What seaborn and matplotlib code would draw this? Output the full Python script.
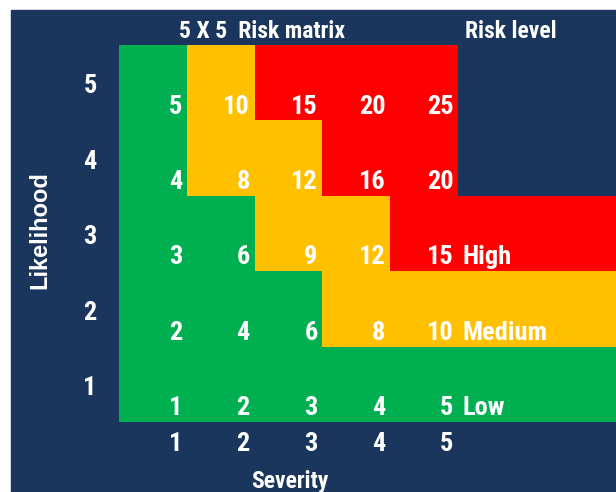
import numpy as np
import pandas as pd
import seaborn as sns
import matplotlib.pyplot as plt
from matplotlib.colors import ListedColormap
from matplotlib.patches import Rectangle

# --------- data ---------
likelihood = [5, 4, 3, 2, 1]
severity = [1, 2, 3, 4, 5]
scores = [
    [5, 10, 15, 20, 25],
    [4, 8, 12, 16, 20],
    [3, 6, 9, 12, 15],
    [2, 4, 6, 8, 10],
    [1, 2, 3, 4, 5],
]
# 0 = low, 1 = medium, 2 = high
levels = [
    [0, 1, 2, 2, 2],
    [0, 1, 1, 2, 2],
    [0, 0, 1, 1, 2],
    [0, 0, 0, 1, 1],
    [0, 0, 0, 0, 0],
]
# risk level band on the right (None = no band)
band_levels = [None, None, 2, 1, 0]
band_names = [None, None, "High", "Medium", "Low"]

navy = "#1A365D"
colors = ["#00B050", "#FFC000", "#FF0000"]
narrow = ["Liberation Sans Narrow", "Roboto Condensed", "Archivo Narrow",
          "Barlow Semi Condensed", "DejaVu Sans"]
num_size = 19

# build the grid: 5 matrix columns + 3 columns for the band
grid = []
for row, band in zip(levels, band_levels):
    ext = [np.nan if band is None else band] * 3
    grid.append(row + ext)
grid_df = pd.DataFrame(grid, index=likelihood)

fig = plt.figure(figsize=(6.16, 4.92), dpi=100)
fig.patches.append(Rectangle((11 / 616, 0), 1, (492 - 10) / 492,
                             transform=fig.transFigure, color=navy, zorder=-5))
ax = fig.add_axes([119 / 616, 70 / 492, 497 / 616, 377 / 492])
ax.set_facecolor(navy)

sns.heatmap(grid_df, cmap=ListedColormap(colors), vmin=-0.5, vmax=2.5,
            cbar=False, ax=ax, linewidths=0)
ax.set_xlim(0, 7.33)

# cell scores, right/bottom aligned in each cell
for i, row in enumerate(scores):
    for j, val in enumerate(row):
        ax.text(j + 0.93, i + 0.91, str(val), ha="right", va="baseline",
                color="white", fontsize=num_size, fontweight="bold", family=narrow)
    if band_names[i]:
        ax.text(5.07, i + 0.91, band_names[i], ha="left", va="baseline",
                color="white", fontsize=num_size, fontweight="bold", family=narrow)

ax.set_xticks([j + 0.93 for j in range(len(severity))])
ax.set_xticklabels(severity, ha="right")
ax.set_yticks([i + 0.55 for i in range(len(likelihood))])
ax.set_yticklabels(likelihood, rotation=0)
ax.tick_params(length=0, colors="white", labelsize=num_size)
ax.tick_params(axis="x", pad=7)
ax.tick_params(axis="y", pad=16)
for lab in ax.get_xticklabels() + ax.get_yticklabels():
    lab.set_family(narrow)
    lab.set_fontweight("bold")

ax.set_xlabel("Severity", color="white", fontsize=17, fontweight="bold", family=narrow)
ax.xaxis.set_label_coords(0.344, -0.127)
ax.set_ylabel("Likelihood", color="white", fontsize=17, fontweight="bold",
              family=["Liberation Sans", "DejaVu Sans"])
ax.yaxis.set_label_coords(-0.136, 0.51)

ax.text(0.288, 1.035, "5 X 5  Risk matrix", transform=ax.transAxes, ha="center",
        va="center", color="white", fontsize=17, fontweight="bold", family=narrow)
ax.text(0.696, 1.035, "Risk level", transform=ax.transAxes, ha="left",
        va="center", color="white", fontsize=17, fontweight="bold", family=narrow)

for s in ax.spines.values():
    s.set_visible(False)

fig.savefig("out.png", dpi=100, facecolor="white")
